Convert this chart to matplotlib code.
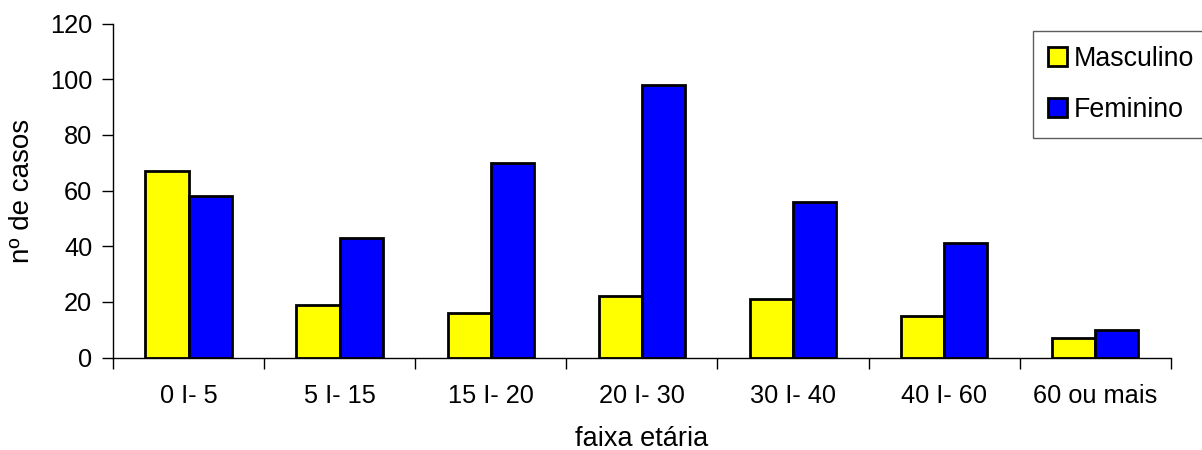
import matplotlib
matplotlib.use("Agg")
import matplotlib.pyplot as plt
import numpy as np

plt.rcParams['font.family'] = ['Liberation Sans', 'DejaVu Sans']

categories = ["0 I- 5", "5 I- 15", "15 I- 20", "20 I- 30", "30 I- 40", "40 I- 60", "60 ou mais"]
masculino = [67, 19, 16, 22, 21, 15, 7]
feminino = [58, 43, 70, 98, 56, 41, 10]
series_names = ["Masculino", "Feminino"]
yticks = [0, 20, 40, 60, 80, 100, 120]

fig = plt.figure(figsize=(12.02, 4.5), dpi=100)
ax = fig.add_axes([113/1202, 1 - 357.5/450, 1057.7/1202, 334/450])

x = np.arange(len(categories)) + 0.5
w = 1 / 3.5
ax.bar(x - w/2, masculino, w, color='#FFFF00', edgecolor='black', linewidth=2, label=series_names[0])
ax.bar(x + w/2, feminino, w, color='#0000FF', edgecolor='black', linewidth=2, label=series_names[1])

ax.set_xlim(0, len(categories))
ax.set_ylim(0, 120)
ax.set_yticks(yticks)
ax.tick_params(axis='y', direction='out', length=8, width=1, pad=7, labelsize=18.3)

ax.set_xticks(np.arange(len(categories) + 1))
ax.set_xticklabels([])
ax.set_xticks(x, minor=True)
ax.set_xticklabels(categories, minor=True)
ax.tick_params(axis='x', which='major', direction='out', length=8, width=1)
ax.tick_params(axis='x', which='minor', length=0, pad=19, labelsize=18.3)

for s in ['top', 'right']:
    ax.spines[s].set_visible(False)
for s in ['left', 'bottom']:
    ax.spines[s].set_linewidth(1)
    ax.spines[s].set_color('black')

ax.set_ylabel("nº de casos", fontsize=20)
ax.yaxis.set_label_coords(-0.086, 0.5)
ax.yaxis.label.set_va('center')
ax.set_xlabel("faixa etária", fontsize=19.5)
ax.xaxis.label.set_va('center')
ax.xaxis.set_label_coords(0.5, (357.5 - 438.5) / 334)

leg = fig.legend(loc='upper left', bbox_to_anchor=(1033/1202, 1 - 31/450),
                 fontsize=19.3, frameon=True, fancybox=False, edgecolor='#333333',
                 borderpad=0.55, labelspacing=0.95, handlelength=0.72, handleheight=0.72,
                 handletextpad=0.25, borderaxespad=0)
leg.get_frame().set_linewidth(1)
for h in leg.legend_handles:
    h.set_linewidth(2)

fig.savefig("out.png", dpi=100)
